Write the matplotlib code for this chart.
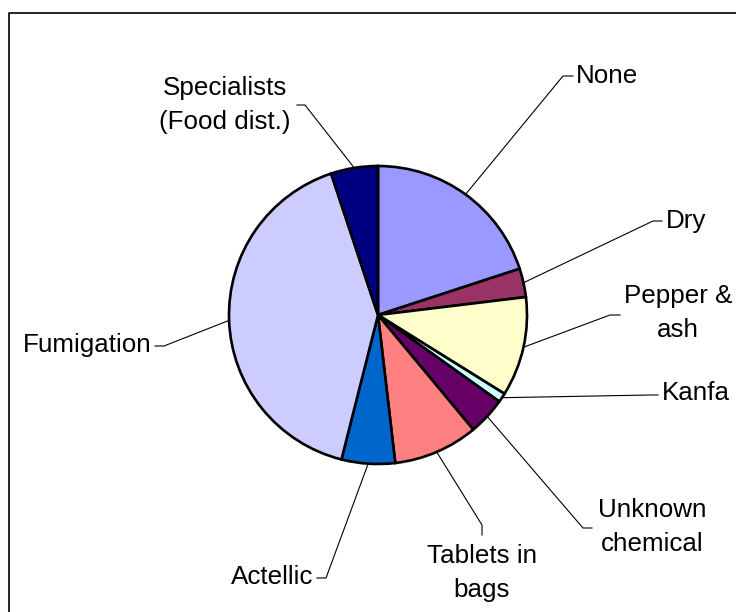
import numpy as np
import matplotlib
matplotlib.use('Agg')
import matplotlib.pyplot as plt

plt.rcParams['font.family'] = ['Liberation Sans', 'DejaVu Sans']

# Slice data (percent of respondents), clockwise from 12 o'clock
labels = ['None', 'Dry', 'Pepper &\nash', 'Kanfa', 'Unknown\nchemical',
          'Tablets in\nbags', 'Actellic', 'Fumigation', 'Specialists\n(Food dist.)']
shares = [20.0, 3.1, 10.8, 1.0, 4.1, 9.2, 5.8, 41.0, 5.1]
colors = ['#9999FF', '#993366', '#FFFFCC', '#CCFFFF', '#660066',
          '#FF8080', '#0066CC', '#CCCCFF', '#000080']

W, H = 736, 612
# label layout in pixel coords (x, y from top): elbow, line end, text pos, align
LAYOUT = [
    ((563, 76), (573, 76), (576, 76), 'left'),
    ((653, 221), (662, 221), (666, 221), 'left'),
    ((610, 315), (620, 315), (678, 313), 'center'),
    ((650, 395), (658, 395), (662, 393), 'left'),
    ((583, 528), (592, 528), (652, 527), 'center'),
    ((482, 525), (482, 535), (482, 573), 'center'),
    ((326, 578), (317, 578), (313, 577), 'right'),
    ((164, 346), (155, 346), (152, 345), 'right'),
    ((305, 105), (297, 105), (225, 105), 'center'),
]
CX, CY, R = 378, 315, 149

fig = plt.figure(figsize=(W / 100, H / 100), dpi=100)
ax = fig.add_axes([0, 0, 1, 1])

wedges, _ = ax.pie(shares, colors=colors, startangle=90, counterclock=False,
                   radius=R, center=(CX, H - CY),
                   wedgeprops=dict(edgecolor='black', linewidth=1.9))

for w, lab, (elbow, end, tpos, ha) in zip(wedges, labels, LAYOUT):
    mid = np.deg2rad((w.theta1 + w.theta2) / 2)
    x0 = CX + R * np.cos(mid)
    y0 = (H - CY) + R * np.sin(mid)
    ax.plot([x0, elbow[0], end[0]], [y0, H - elbow[1], H - end[1]],
            color='black', linewidth=0.8)
    ax.text(tpos[0], H - tpos[1], lab, ha=ha, va='center', fontsize=18.7,
            linespacing=1.55, multialignment='center', color='black')

# chart frame (only top and left edges fall inside the image)
ax.plot([8.5, 8.5, W + 5], [-5, H - 13, H - 13], color='black', linewidth=1.2)

ax.set_xlim(0, W)
ax.set_ylim(0, H)
ax.set_aspect('equal')
ax.axis('off')

fig.savefig('out.png', dpi=100, facecolor='white')
